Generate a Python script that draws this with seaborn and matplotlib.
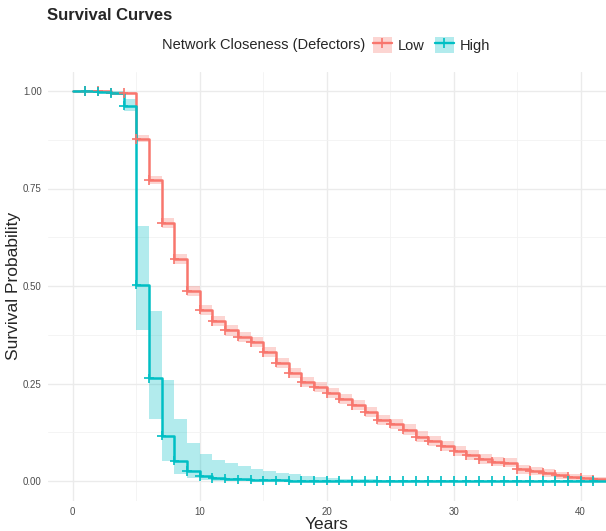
import numpy as np
import pandas as pd
import matplotlib
matplotlib.use('Agg')
import matplotlib.pyplot as plt
import seaborn as sns
from matplotlib.patches import Patch
from matplotlib.lines import Line2D
from matplotlib.ticker import MultipleLocator

# ~~~~~~~~~~~~~~~~~~~~~~~~~~~~ data ~~~~~~~~~~~~~~~~~~~~~~~~~~~~
years = list(range(0, 43))

# Low closeness : survival on [t, t+1)
low_surv = [1.000, 1.000, 1.000, 0.996, 0.995, 0.877, 0.772, 0.662, 0.569, 0.488,
            0.439, 0.410, 0.386, 0.370, 0.356, 0.330, 0.303, 0.277, 0.254, 0.242,
            0.226, 0.211, 0.195, 0.178, 0.157, 0.147, 0.132, 0.114, 0.103, 0.090,
            0.077, 0.067, 0.056, 0.050, 0.047, 0.030, 0.026, 0.021, 0.015, 0.011,
            0.008, 0.004, 0.004]
low_half = [0.000, 0.000, 0.001, 0.002, 0.003, 0.009, 0.011, 0.012, 0.013, 0.013,
            0.013, 0.013, 0.013, 0.013, 0.013, 0.013, 0.013, 0.013, 0.013, 0.013,
            0.013, 0.013, 0.013, 0.013, 0.013, 0.013, 0.013, 0.013, 0.013, 0.013,
            0.012, 0.012, 0.012, 0.012, 0.012, 0.011, 0.010, 0.010, 0.009, 0.008,
            0.007, 0.005, 0.005]

# High closeness
high_surv = [1.000, 1.000, 0.998, 0.995, 0.962, 0.503, 0.263, 0.116, 0.052, 0.026,
             0.012, 0.008, 0.006, 0.004, 0.003, 0.002, 0.0015, 0.001, 0.001, 0.0008,
             0.0006, 0.0005, 0.0004, 0.0003, 0.0002, 0.0002, 0.0001, 0.0001, 0.0001, 0.0001,
             0.0, 0.0, 0.0, 0.0, 0.0, 0.0, 0.0, 0.0, 0.0, 0.0,
             0.0, 0.0, 0.0]
high_upper = [1.000, 1.000, 1.000, 0.999, 0.979, 0.655, 0.436, 0.259, 0.159, 0.098,
              0.068, 0.054, 0.045, 0.038, 0.031, 0.026, 0.021, 0.017, 0.013, 0.010,
              0.008, 0.006, 0.005, 0.004, 0.003, 0.002, 0.002, 0.002, 0.002, 0.002,
              0.001, 0.001, 0.001, 0.001, 0.001, 0.001, 0.001, 0.001, 0.001, 0.001,
              0.001, 0.001, 0.001]
high_lower = [1.000, 1.000, 0.994, 0.990, 0.949, 0.387, 0.159, 0.052, 0.018, 0.007,
              0.002, 0.001, 0.0, 0.0, 0.0, 0.0, 0.0, 0.0, 0.0, 0.0,
              0.0, 0.0, 0.0, 0.0, 0.0, 0.0, 0.0, 0.0, 0.0, 0.0,
              0.0, 0.0, 0.0, 0.0, 0.0, 0.0, 0.0, 0.0, 0.0, 0.0,
              0.0, 0.0, 0.0]

groups = ['Low', 'High']
colors = {'Low': '#F8766D', 'High': '#00BFC4'}

low = pd.DataFrame({'time': years, 'surv': low_surv,
                    'lower': np.clip(np.array(low_surv) - np.array(low_half), 0, 1),
                    'upper': np.clip(np.array(low_surv) + np.array(low_half), 0, 1),
                    'group': 'Low'})
high = pd.DataFrame({'time': years, 'surv': high_surv,
                     'lower': high_lower, 'upper': high_upper, 'group': 'High'})
df = pd.concat([low, high], ignore_index=True)
# censor marks at each whole year
marks = df[(df.time >= 1) & (df.time <= 41)]

# ~~~~~~~~~~~~~~~~~~~~~~~~~~~~ plot ~~~~~~~~~~~~~~~~~~~~~~~~~~~~
sns.set_style('white')
plt.rcParams['font.family'] = ['Liberation Sans', 'DejaVu Sans']

fig = plt.figure(figsize=(6.06, 5.31), dpi=100)
ax = fig.add_axes([48 / 606, 30.5 / 531, 1 - 48 / 606, 429 / 531])

for g in groups:
    d = df[df.group == g]
    ax.fill_between(d.time, d.lower, d.upper, step='post', color=colors[g],
                    alpha=0.3, linewidth=0, zorder=2)

sns.lineplot(data=df, x='time', y='surv', hue='group', palette=colors,
             hue_order=groups, drawstyle='steps-post', estimator=None,
             linewidth=1.8, legend=False, ax=ax, zorder=3)
sns.scatterplot(data=marks, x='time', y='surv', hue='group', palette=colors,
                hue_order=groups, marker='+', s=45, linewidth=1.2,
                legend=False, ax=ax, zorder=4)

ax.set_xlim(-1.95, 42.0)
ax.set_ylim(-0.05, 1.05)
ax.xaxis.set_major_locator(MultipleLocator(10))
ax.xaxis.set_minor_locator(MultipleLocator(5))
ax.yaxis.set_major_locator(MultipleLocator(0.25))
ax.yaxis.set_minor_locator(MultipleLocator(0.125))
ax.set_yticks([0, 0.25, 0.5, 0.75, 1.0])
ax.set_yticklabels(['0.00', '0.25', '0.50', '0.75', '1.00'])
ax.grid(which='major', color='#EBEBEB', linewidth=1.0)
ax.grid(which='minor', color='#F2F2F2', linewidth=0.6)
ax.set_axisbelow(True)
for s in ax.spines.values():
    s.set_visible(False)
ax.tick_params(which='major', length=2.5, width=0.8, color='#333333',
               labelsize=7, labelcolor='#4D4D4D', pad=2)
ax.tick_params(which='minor', length=0)

ax.set_xlabel('Years', fontsize=12.5, labelpad=0)
ax.set_ylabel('Survival Probability', fontsize=12.5)
ax.yaxis.set_label_coords(-27 / 558, 0.5)

fig.text(47 / 606, 1 - 15 / 531, 'Survival Curves', fontsize=12, fontweight='bold',
         ha='left', va='center')
fig.text(162 / 606, 1 - 45 / 531, 'Network Closeness (Defectors)', fontsize=10.5,
         ha='left', va='center')
handles = [(Patch(facecolor=colors[g], alpha=0.3, edgecolor='none'),
            Line2D([], [], color=colors[g], lw=1.7, marker='+', ms=7, mew=1.2))
           for g in groups]
fig.legend(handles, groups, ncol=2, loc='center left',
           bbox_to_anchor=(373 / 606, 1 - 45 / 531), frameon=False,
           fontsize=10.5, handlelength=1.3, handleheight=1.3, handletextpad=0.4,
           columnspacing=0.7, borderpad=0, borderaxespad=0)

fig.savefig('out.png', dpi=100)
